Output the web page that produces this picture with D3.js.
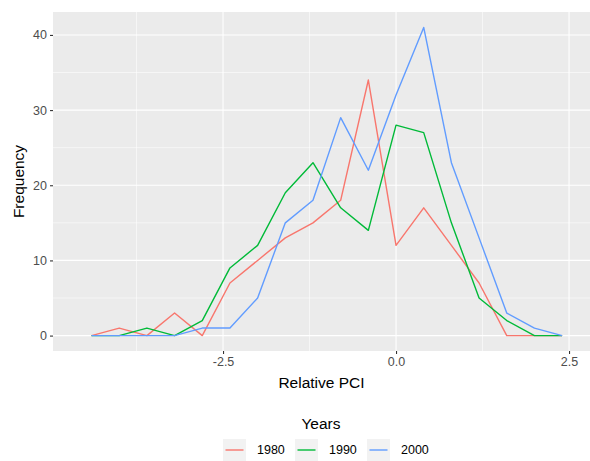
<!DOCTYPE html>
<html>
<head>
<meta charset="utf-8">
<script src="https://cdn.jsdelivr.net/npm/d3@7"></script>
<style>
  html, body { margin: 0; padding: 0; background: #fff; }
  svg { display: block; font-family: "Liberation Sans", Arial, sans-serif; }
</style>
</head>
<body>
<svg id="chart" width="590" height="461"></svg>
<script>
// Bin centres of the relative PCI histogram (bin width 0.4)
const binCenters = [-4.4, -4.0, -3.6, -3.2, -2.8, -2.4, -2.0, -1.6, -1.2, -0.8, -0.4, 0.0, 0.4, 0.8, 1.2, 1.6, 2.0, 2.4];

// Counts per bin for each year
const years = ["1980", "1990", "2000"];
const freq1980 = [0, 1, 0, 3, 0, 7, 10, 13, 15, 18, 34, 12, 17, 12, 7, 0, 0, 0];
const freq1990 = [0, 0, 1, 0, 2, 9, 12, 19, 23, 17, 14, 28, 27, 15, 5, 2, 0, 0];
const freq2000 = [0, 0, 0, 0, 1, 1, 5, 15, 18, 29, 22, 32, 41, 23, 13, 3, 1, 0];

const xTicks = [-2.5, 0.0, 2.5];
const xTickLabels = ["-2.5", "0.0", "2.5"];
const xMinor = [-3.75, -1.25, 1.25];
const yTicks = [0, 10, 20, 30, 40];
const yMinor = [5, 15, 25, 35];

const colors = ["#F8766D", "#00BA38", "#619CFF"];
const seriesValues = [freq1980, freq1990, freq2000];

const svg = d3.select("#chart");
const panel = { left: 53, right: 590, top: 12, bottom: 351 };

const x = d3.scaleLinear().domain([-4.957, 2.803]).range([panel.left, panel.right]);
const y = d3.scaleLinear().domain([-2.05, 43.05]).range([panel.bottom, panel.top]);

// Panel background
svg.append("rect")
  .attr("x", panel.left).attr("y", panel.top)
  .attr("width", panel.right - panel.left).attr("height", panel.bottom - panel.top)
  .attr("fill", "#EBEBEB");

const grid = svg.append("g");
// Minor grid
grid.selectAll(".ym").data(yMinor).join("line")
  .attr("x1", panel.left).attr("x2", panel.right)
  .attr("y1", d => y(d)).attr("y2", d => y(d))
  .attr("stroke", "#fff").attr("stroke-width", 0.55);
grid.selectAll(".xm").data(xMinor).join("line")
  .attr("y1", panel.top).attr("y2", panel.bottom)
  .attr("x1", d => x(d)).attr("x2", d => x(d))
  .attr("stroke", "#fff").attr("stroke-width", 0.55);
// Major grid
grid.selectAll(".yM").data(yTicks).join("line")
  .attr("x1", panel.left).attr("x2", panel.right)
  .attr("y1", d => y(d)).attr("y2", d => y(d))
  .attr("stroke", "#fff").attr("stroke-width", 1.1);
grid.selectAll(".xM").data(xTicks).join("line")
  .attr("y1", panel.top).attr("y2", panel.bottom)
  .attr("x1", d => x(d)).attr("x2", d => x(d))
  .attr("stroke", "#fff").attr("stroke-width", 1.1);

// Frequency polygons
const line = d3.line().x((d, i) => x(binCenters[i])).y(d => y(d));
svg.append("g").selectAll("path").data(seriesValues).join("path")
  .attr("d", d => line(d))
  .attr("fill", "none")
  .attr("stroke", (d, i) => colors[i])
  .attr("stroke-width", 1.4)
  .attr("stroke-linejoin", "round");

// Axes
const xAxis = d3.axisBottom(x).tickValues(xTicks)
  .tickFormat((d, i) => xTickLabels[i]).tickSize(3).tickPadding(3);
const yAxis = d3.axisLeft(y).tickValues(yTicks).tickFormat(d3.format("d")).tickSize(3).tickPadding(3);

const gx = svg.append("g").attr("transform", `translate(0,${panel.bottom})`).call(xAxis);
const gy = svg.append("g").attr("transform", `translate(${panel.left},0)`).call(yAxis);
[gx, gy].forEach(g => {
  g.select(".domain").remove();
  g.selectAll(".tick line").attr("stroke", "#333333").attr("stroke-width", 1.1);
  g.selectAll(".tick text").attr("fill", "#4D4D4D").style("font-size", "12.5px")
    .style("font-family", "'Liberation Sans', Arial, sans-serif");
});

// Axis titles
svg.append("text")
  .attr("x", (panel.left + panel.right) / 2).attr("y", 388)
  .attr("text-anchor", "middle").style("font-size", "15.5px").attr("fill", "#000")
  .text("Relative PCI");
svg.append("text")
  .attr("transform", `translate(24,${(panel.top + panel.bottom) / 2}) rotate(-90)`)
  .attr("text-anchor", "middle").style("font-size", "15.5px").attr("fill", "#000")
  .text("Frequency");

// Legend
svg.append("text")
  .attr("x", (panel.left + panel.right) / 2 - 0.5).attr("y", 429)
  .attr("text-anchor", "middle").style("font-size", "15.5px").attr("fill", "#000")
  .text("Years");

const keyX = [223, 295, 367];
const legend = svg.append("g");
const items = legend.selectAll("g").data(years).join("g")
  .attr("transform", (d, i) => `translate(${keyX[i]},439)`);
items.append("rect").attr("width", 23).attr("height", 22).attr("fill", "#F2F2F2");
items.append("line")
  .attr("x1", 2.5).attr("x2", 20.5).attr("y1", 11).attr("y2", 11)
  .attr("stroke", (d, i) => colors[i]).attr("stroke-width", 1.4);
items.append("text")
  .attr("x", 34).attr("y", 11).attr("dy", "0.35em")
  .style("font-size", "12.5px").attr("fill", "#000")
  .text(d => d);
</script>
</body>
</html>
